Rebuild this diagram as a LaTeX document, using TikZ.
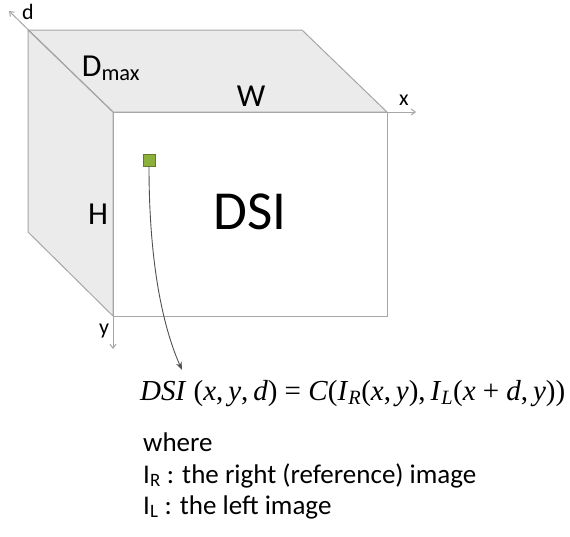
\documentclass[tikz,border=0pt]{standalone}
\usepackage{fontspec}
\setmainfont{Carlito}
\newfontfamily\eqfont{Liberation Serif}
\usepackage{xcolor}
\definecolor{edgegray}{HTML}{A6A6A6}
\definecolor{facegray}{HTML}{EBEBEB}
\definecolor{pixgreen}{HTML}{8CB03C}
\definecolor{curvegray}{HTML}{505050}
\usepackage{tikz}
\usetikzlibrary{arrows.meta}

\begin{document}
\begin{tikzpicture}[x=1pt, y=-1pt,
  face/.style={fill=facegray, draw=edgegray, line width=1pt, line join=round},
  axis/.style={draw=edgegray, line width=1pt, -{Straight Barb[length=4pt, width=6pt]}},
  dimlabel/.style={font=\fontsize{32}{36}\selectfont, inner sep=0pt},
  axislabel/.style={font=\fontsize{22}{24}\selectfont, inner sep=0pt},
  textline/.style={font=\fontsize{27}{30}\selectfont, anchor=base west, inner sep=0pt}]
  \useasboundingbox (0,0) rectangle (570,536);
  % corners of the volume
  \coordinate (bTL) at (28,30);
  \coordinate (bTR) at (302,30);
  \coordinate (bBL) at (28,232);
  \coordinate (fTL) at (113,112);
  \coordinate (fTR) at (387,112);
  \coordinate (fBL) at (113,316);
  \coordinate (fBR) at (387,316);
  % faces
  \draw[face] (bTL) -- (bTR) -- (fTR) -- (fTL) -- cycle;
  \draw[face] (bTL) -- (fTL) -- (fBL) -- (bBL) -- cycle;
  \draw[draw=edgegray, line width=1pt, fill=white] (fTL) rectangle (fBR);
  % axes
  \coordinate (dEnd) at (9,11);
  \coordinate (xEnd) at (416,112);
  \coordinate (yEnd) at (113,349);
  \draw[axis] (fTL) -- (dEnd);
  \draw[axis] (fTR) -- (xEnd);
  \draw[axis] (fBL) -- (yEnd);
  \node[axislabel] (dlab) at (28,12) {d};
  \node[axislabel] (xlab) at (404,100) {x};
  \node[axislabel] (ylab) at (104,331) {y};
  % sizes
  \node[dimlabel] (dmax) at (111,68) {D\textsubscript{max}};
  \node[dimlabel] (wlab) at (251,96) {W};
  \node[dimlabel] (hlab) at (98,214) {H};
  \node[inner sep=0pt, font=\fontsize{55}{58}\selectfont] (dsi) at (250,212) {DSI};
  % one cell of the volume
  \node[draw=pixgreen!70!black, fill=pixgreen, minimum size=12pt, inner sep=0pt, line width=0.6pt] (cell) at (149,160) {};
  \coordinate (tip) at (182,370);
  \draw[curvegray, line width=0.9pt, -{Stealth[length=8pt, width=6pt]}] (cell.south) .. controls (149,260) and (162,325) .. (tip);
  % definition
  \node[textline, font=\eqfont\fontsize{29}{31}\selectfont] (eq) at (140,400)
    {\textit{DSI}\ (\textit{x},\,\textit{y},\,\textit{d}) = \textit{C}(\textit{I}\textsubscript{\textit{R}}(\textit{x},\,\textit{y}),\,\textit{I}\textsubscript{\textit{L}}(\textit{x} + \textit{d},\,\textit{y}))};
  \node[textline] (where) at (143,451) {where};
  \node[textline] (iright) at (143,483) {I\textsubscript{R} : the right (reference) image};
  \node[textline] (ileft) at (143,514) {I\textsubscript{L} : the left image};
\end{tikzpicture}
\end{document}
